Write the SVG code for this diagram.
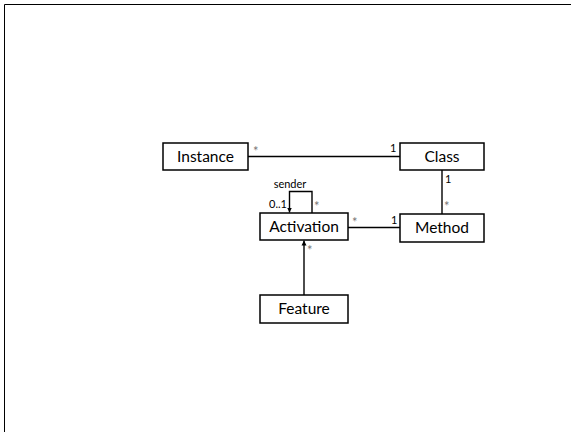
<svg xmlns="http://www.w3.org/2000/svg" width="571" height="432" viewBox="0 0 571 432">
  <defs>
    <style>
      .box { fill: #ffffff; stroke: #000000; stroke-width: 1.5; }
      .edge { fill: none; stroke: #000000; stroke-width: 1.4; }
      .name { font-family: "Lato", "Open Sans", sans-serif; font-size: 15.5px; fill: #000000; text-anchor: middle; }
      .mult { font-family: "Lato", "Open Sans", sans-serif; font-size: 11px; fill: #000000; }
      .star { font-family: "Lato", "Open Sans", sans-serif; font-size: 13px; fill: #777777; }
    </style>
    <marker id="arrow" viewBox="0 0 10 10" refX="10" refY="5" markerWidth="5" markerHeight="6" orient="auto" markerUnits="userSpaceOnUse">
      <path d="M0,0 L10,5 L0,10 z" fill="#000000"/>
    </marker>
  </defs>

  <rect x="0" y="0" width="571" height="432" fill="#ffffff"/>
  <!-- page frame -->
  <path d="M4.5,432 V4.5 H571" fill="none" stroke="#000000" stroke-width="1"/>

  <g id="connectors">
    <line class="edge" x1="248" y1="156.5" x2="400" y2="156.5"/>
    <line class="edge" x1="442" y1="170" x2="442" y2="214"/>
    <line class="edge" x1="348" y1="227.5" x2="400" y2="227.5"/>
    <line class="edge" x1="304" y1="295" x2="304" y2="240.5" marker-end="url(#arrow)"/>
    <path class="edge" d="M312,213 V191.5 H289.5 V212.5" marker-end="url(#arrow)"/>
  </g>

  <g id="labels">
    <text class="star" x="253" y="156">*</text>
    <text class="mult" x="390" y="152">1</text>
    <text class="mult" x="445" y="183">1</text>
    <text class="star" x="444" y="211">*</text>
    <text class="star" x="352" y="227">*</text>
    <text class="mult" x="391" y="224">1</text>
    <text class="mult" x="290" y="188" text-anchor="middle">sender</text>
    <text class="mult" x="269" y="208">0..1</text>
    <text class="star" x="314" y="211">*</text>
    <text class="star" x="307" y="255">*</text>
  </g>

  <g id="Instance">
    <rect class="box" x="163" y="143" width="85" height="27"/>
    <text class="name" x="205.5" y="162">Instance</text>
  </g>
  <g id="Class">
    <rect class="box" x="400" y="143" width="84" height="27"/>
    <text class="name" x="442" y="162">Class</text>
  </g>
  <g id="Activation">
    <rect class="box" x="260" y="213" width="88" height="27"/>
    <text class="name" x="304" y="232">Activation</text>
  </g>
  <g id="Method">
    <rect class="box" x="400" y="214" width="84" height="28"/>
    <text class="name" x="442" y="233">Method</text>
  </g>
  <g id="Feature">
    <rect class="box" x="260" y="295" width="88" height="28"/>
    <text class="name" x="304" y="314">Feature</text>
  </g>
</svg>
